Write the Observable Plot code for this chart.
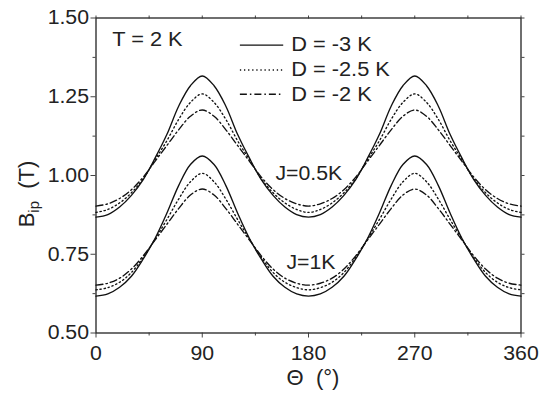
<!DOCTYPE html>
<html>
<head>
<meta charset="utf-8">
<script src="https://cdn.jsdelivr.net/npm/d3@7"></script>
<script src="https://cdn.jsdelivr.net/npm/@observablehq/plot@0.6"></script>
<style>
  body { margin: 0; background: #fff; }
  #chart { width: 551px; height: 395px; }
  svg { font-family: "Liberation Sans", Arial, sans-serif; }
</style>
</head>
<body>
<div id="chart"></div>
<script>
// Angle Θ (degrees)
const theta = [0,10,20,30,40,50,60,70,80,90,100,110,120,130,140,150,160,170,180,
               190,200,210,220,230,240,250,260,270,280,290,300,310,320,330,340,350,360];

// J = 0.5 K
const j05_D3  = [0.868,0.876,0.900,0.937,0.987,1.055,1.130,1.220,1.285,1.316,1.285,1.220,1.130,1.055,0.987,0.937,0.900,0.876,0.868,
                 0.876,0.900,0.937,0.987,1.055,1.130,1.220,1.285,1.316,1.285,1.220,1.130,1.055,0.987,0.937,0.900,0.876,0.868];
const j05_D25 = [0.883,0.892,0.913,0.945,0.990,1.050,1.110,1.178,1.232,1.259,1.232,1.178,1.110,1.050,0.990,0.945,0.913,0.892,0.883,
                 0.892,0.913,0.945,0.990,1.050,1.110,1.178,1.232,1.259,1.232,1.178,1.110,1.050,0.990,0.945,0.913,0.892,0.883];
const j05_D2  = [0.903,0.910,0.927,0.955,0.995,1.045,1.095,1.145,1.188,1.208,1.188,1.145,1.095,1.045,0.995,0.955,0.927,0.910,0.903,
                 0.910,0.927,0.955,0.995,1.045,1.095,1.145,1.188,1.208,1.188,1.145,1.095,1.045,0.995,0.955,0.927,0.910,0.903];
// J = 1 K
const j1_D3   = [0.617,0.624,0.645,0.680,0.735,0.800,0.880,0.968,1.035,1.062,1.035,0.968,0.880,0.800,0.735,0.680,0.645,0.624,0.617,
                 0.624,0.645,0.680,0.735,0.800,0.880,0.968,1.035,1.062,1.035,0.968,0.880,0.800,0.735,0.680,0.645,0.624,0.617];
const j1_D25  = [0.637,0.644,0.661,0.692,0.740,0.798,0.860,0.925,0.980,1.007,0.980,0.925,0.860,0.798,0.740,0.692,0.661,0.644,0.637,
                 0.644,0.661,0.692,0.740,0.798,0.860,0.925,0.980,1.007,0.980,0.925,0.860,0.798,0.740,0.692,0.661,0.644,0.637];
const j1_D2   = [0.652,0.658,0.674,0.703,0.745,0.795,0.845,0.895,0.938,0.957,0.938,0.895,0.845,0.795,0.745,0.703,0.674,0.658,0.652,
                 0.658,0.674,0.703,0.745,0.795,0.845,0.895,0.938,0.957,0.938,0.895,0.845,0.795,0.745,0.703,0.674,0.658,0.652];

const seriesNames = ["D = -3 K", "D = -2.5 K", "D = -2 K"];
const xTicks = [0, 90, 180, 270, 360];
const xMinor = [45, 135, 225, 315];
const yTicks = [0.50, 0.75, 1.00, 1.25, 1.50];
const yMinor = [0.625, 0.875, 1.125, 1.375];

const dashes = {"D = -3 K": null, "D = -2.5 K": "1.3,2.8", "D = -2 K": "7,3,1.5,3"};

const rows = [];
const groups = [
  ["J05", [j05_D3, j05_D25, j05_D2]],
  ["J1",  [j1_D3, j1_D25, j1_D2]]
];
for (const [g, arrs] of groups) {
  arrs.forEach((arr, k) => {
    theta.forEach((t, i) => rows.push({g, s: seriesNames[k], key: g + k, t, v: arr[i]}));
  });
}

const legendRows = seriesNames.map((s, i) => ({s, y: [1.414, 1.335, 1.258][i]}));

const fs = 19.5;
const lineMarks = seriesNames.map(s =>
  Plot.line(rows.filter(d => d.s === s), {
    x: "t", y: "v", z: "key", curve: "catmull-rom",
    stroke: "#111", strokeWidth: 1.35, strokeDasharray: dashes[s]
  })
);
const legendLineMarks = legendRows.map(r =>
  Plot.ruleY([r], {y: "y", x1: 122.3, x2: 159, stroke: "#111", strokeWidth: 1.35, strokeDasharray: dashes[r.s]})
);

const chart = Plot.plot({
  width: 551,
  height: 395,
  marginLeft: 95.5,
  marginRight: 30.5,
  marginTop: 17.5,
  marginBottom: 62.5,
  style: {fontFamily: '"Liberation Sans", Arial, sans-serif', fontSize: fs + "px", color: "#222", background: "#fff"},
  x: {domain: [0, 360]},
  y: {domain: [0.5, 1.5]},
  marks: [
    Plot.axisX({ticks: xTicks, tickSize: 5, tickPadding: 8, tickFormat: d => String(d), label: null, fontSize: fs, stroke: "#444"}),
    Plot.axisX({ticks: xMinor, tickSize: 3, tickFormat: null, text: null, label: null, stroke: "#444"}),
    Plot.axisX({anchor: "top", ticks: xTicks.concat(xMinor), tickSize: 3, text: null, label: null, stroke: "#444"}),
    Plot.axisY({ticks: yTicks, tickSize: 5, tickPadding: 2, tickFormat: d3.format(".2f"), label: null, fontSize: fs, stroke: "#444"}),
    Plot.axisY({ticks: yMinor, tickSize: 3, text: null, label: null, stroke: "#444"}),
    Plot.axisY({anchor: "right", ticks: yTicks.concat(yMinor), tickSize: 3, text: null, label: null, stroke: "#444"}),
    Plot.frame({stroke: "#333", strokeWidth: 1.4}),
    ...lineMarks,
    ...legendLineMarks,
    Plot.text(legendRows, {x: 165.3, y: "y", text: "s", textAnchor: "start", fontSize: 20, fill: "#222"}),
    Plot.text(["T = 2 K"], {x: 13.7, y: 1.432, text: d => d, textAnchor: "start", fontSize: 20, fill: "#222"}),
    Plot.text(["J=0.5K"], {x: 152, y: 1.006, text: d => d, textAnchor: "start", fontSize: 19.5, fill: "#222"}),
    Plot.text(["J=1K"], {x: 161.3, y: 0.724, text: d => d, textAnchor: "start", fontSize: 19.5, fill: "#222"})
  ]
});

document.getElementById("chart").appendChild(chart);

// Reference lettering is slightly wider than Liberation Sans: stretch horizontally
d3.select(chart).selectAll("text").each(function() {
  const len = this.getComputedTextLength();
  if (len > 0) {
    this.setAttribute("textLength", (len * 1.09).toFixed(2));
    this.setAttribute("lengthAdjust", "spacingAndGlyphs");
  }
});

// Axis titles (with subscript)
const svg = d3.select(chart);
svg.append("text")
  .attr("x", 313).attr("y", 385)
  .attr("text-anchor", "middle")
  .attr("font-size", 22).attr("fill", "#222")
  .text("\u0398  (\u00b0)");
const yl = svg.append("text")
  .attr("transform", "translate(34,194) rotate(-90)")
  .attr("text-anchor", "middle")
  .attr("font-size", 22).attr("fill", "#222");
yl.append("tspan").text("B");
yl.append("tspan").attr("font-size", 15).attr("dy", 5).text("ip");
yl.append("tspan").attr("dy", -5).text("  (T)");
</script>
</body>
</html>
